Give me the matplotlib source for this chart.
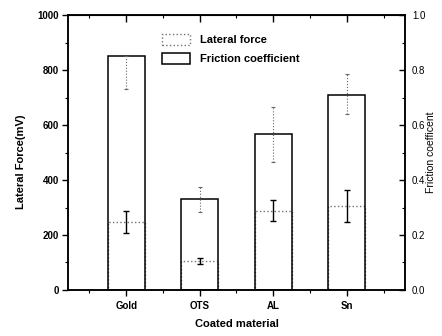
import matplotlib
matplotlib.use('Agg')
import matplotlib.pyplot as plt
from matplotlib.ticker import MultipleLocator

plt.rcParams['font.family'] = ['Liberation Sans', 'DejaVu Sans']

materials = ['Gold', 'OTS', 'AL', 'Sn']
lateral_force = [248, 105, 288, 306]          # mV, left axis
lateral_err = [40, 12, 38, 58]
friction = [0.85, 0.33, 0.567, 0.71]           # right axis
friction_err_low = [0.12, 0.045, 0.10, 0.07]
friction_err_high = [0.0, 0.045, 0.10, 0.075]

x = range(1, len(materials) + 1)

fig = plt.figure(figsize=(4.42, 3.36), dpi=100)
ax = fig.add_axes([0.154, 0.137, 0.762, 0.818])
ax2 = ax.twinx()

# lateral force: dotted inner bars, solid error bars
lat_bars = ax.bar(x, lateral_force, width=0.5, fill=False, edgecolor='0.45',
                  linestyle=':', linewidth=1.0, label='Lateral force')
ax.errorbar(x, lateral_force, yerr=lateral_err, fmt='none', ecolor='black',
            elinewidth=1.0, capsize=2.5, capthick=1.0)

# friction coefficient: solid outlined bars, faint dotted error bars
fr_bars = ax2.bar(x, friction, width=0.5, fill=False, edgecolor='black',
                  linewidth=1.1, label='Friction coefficient')
eb = ax2.errorbar(x, friction, yerr=[friction_err_low, friction_err_high],
                  fmt='none', ecolor='0.4', elinewidth=0.8, capsize=1.5,
                  capthick=0.8)
for line in eb[2]:
    line.set_linestyle(':')

ax.set_xlim(0.21, 4.79)
ax.set_ylim(0, 1000)
ax2.set_ylim(0, 1.0)

ax.set_xticks(list(x))
ax.set_xticklabels(materials, fontsize=7, fontweight='bold')
ax.xaxis.set_minor_locator(MultipleLocator(0.5))
ax.yaxis.set_major_locator(MultipleLocator(200))
ax.yaxis.set_minor_locator(MultipleLocator(100))
ax2.yaxis.set_major_locator(MultipleLocator(0.2))
ax2.yaxis.set_minor_locator(MultipleLocator(0.1))
ax2.yaxis.set_major_formatter(plt.FuncFormatter(lambda v, p: '%.1f' % v))

for lab in ax.get_yticklabels():
    lab.set_fontweight('bold')

ax.tick_params(axis='y', which='both', direction='out', labelsize=7, pad=2)
ax.tick_params(axis='y', which='major', length=4.5, width=1.0)
ax.tick_params(axis='y', which='minor', length=2.5, width=0.8)
ax.tick_params(axis='x', which='both', direction='out', top=True, pad=4)
ax.tick_params(axis='x', which='major', length=4, width=1.0)
ax.tick_params(axis='x', which='minor', length=2.5, width=0.8)
ax2.tick_params(axis='y', which='both', direction='in', labelsize=7, pad=5)
ax2.tick_params(axis='y', which='major', length=4, width=1.0)
ax2.tick_params(axis='y', which='minor', length=2.5, width=0.8)

# top ticks pointing inward
topax = ax.secondary_xaxis('top')
topax.set_xticks(list(x))
topax.set_xticklabels([])
topax.xaxis.set_minor_locator(MultipleLocator(0.5))
topax.tick_params(axis='x', which='both', direction='in')
topax.tick_params(axis='x', which='major', length=5, width=1.0)
topax.tick_params(axis='x', which='minor', length=2.5, width=0.8)
ax.tick_params(axis='x', which='both', top=False)

for a in (ax, ax2):
    for s in a.spines.values():
        s.set_linewidth(1.1)

ax.set_xlabel('Coated material', fontsize=8, fontweight='bold', labelpad=6)
ax.set_ylabel('Lateral Force(mV)', fontsize=8, fontweight='bold')
ax.yaxis.set_label_coords(-0.125, 0.465)
ax2.set_ylabel('Friction coefficent', fontsize=7.5)
ax2.yaxis.set_label_coords(1.062, 0.5)

ax2.legend(handles=[lat_bars, fr_bars], loc='upper left',
           bbox_to_anchor=(0.279, 0.931), frameon=False, fontsize=8,
           borderpad=0, borderaxespad=0, handlelength=2.5,
           handleheight=1.1, handletextpad=0.9, labelspacing=0.7,
           prop={'weight': 'bold', 'size': 8})

fig.savefig('out.png', dpi=100)
